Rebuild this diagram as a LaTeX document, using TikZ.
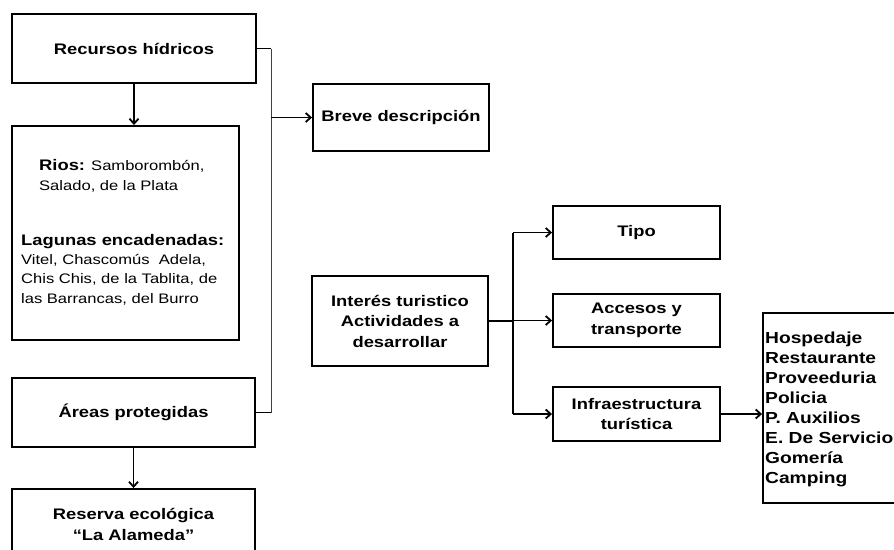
\documentclass[tikz,border=0pt]{standalone}
\usepackage{fontspec}
\setmainfont{Liberation Sans}[FakeStretch=1.2]
\usetikzlibrary{arrows.meta}
\begin{document}
\begin{tikzpicture}[x=1pt,y=-1pt,
  box/.style={draw, line width=1.9pt, inner sep=0pt, align=center},
  head/.style={font=\fontsize{15.3}{20.5}\selectfont\bfseries},
  small/.style={font=\fontsize{13.8}{19.3}\selectfont},
  list/.style={font=\fontsize{16}{20}\selectfont\bfseries},
  conn/.style={line width=1.8pt},
  thinconn/.style={line width=1pt, black!75},
  arr/.style={conn, -{Straight Barb[length=5pt,width=9pt]}},
]
\clip (0,0) rectangle (894,549);
\fill[white] (0,0) rectangle (894,549);

% left column
\node[box, head, minimum width=244pt, minimum height=69pt] (rec) at (134,48.5) {Recursos hídricos};
\node[box, minimum width=227pt, minimum height=214pt] (rios) at (125.5,233) {};
\node[small, anchor=base west, inner sep=0pt, align=left] (riostxt) at (39,190)
  {{\fontsize{15.3}{19.3}\selectfont\bfseries Rios:} Samborombón,\\Salado, de la Plata};
\node[small, anchor=base west, inner sep=0pt, align=left] (lagtxt) at (21,303)
  {{\fontsize{15.3}{19.3}\selectfont\bfseries Lagunas encadenadas:}\\Vitel, Chascomús~ Adela,\\Chis Chis, de la Tablita, de\\las Barrancas, del Burro};
\node[box, head, minimum width=243pt, minimum height=69pt] (areas) at (133.5,412.5) {Áreas protegidas};
\node[box, head, minimum width=243pt, minimum height=71pt] (reserva) at (133.5,524.5) {Reserva ecológica\\“La Alameda”};

% middle
\node[box, head, minimum width=176pt, minimum height=67pt] (breve) at (401,117.5) {Breve descripción};
\node[box, head, minimum width=176pt, minimum height=90pt] (inter) at (400,321) {Interés turistico\\Actividades a\\desarrollar};

% right
\node[box, head, minimum width=167pt, minimum height=53pt] (tipo) at (636.5,232.5) {Tipo};
\node[box, head, minimum width=167pt, minimum height=53pt] (acc) at (636.5,320.5) {Accesos y\\transporte};
\node[box, head, minimum width=167pt, minimum height=54pt] (infra) at (636.5,414) {Infraestructura\\turística};
\node[box, minimum width=150pt, minimum height=190pt] (hosp) at (838,408) {};
\node[list, anchor=west, inner sep=0pt, align=left] (hosptxt) at (765,409)
  {Hospedaje\\Restaurante\\Proveeduria\\Policia\\P. Auxilios\\E. De Servicio\\Gomería\\Camping};

% connectors left
\draw[arr] (rec.south) -- (rec.south |- rios.north);
\coordinate (b1) at (271,48.5);
\coordinate (b2) at (271,412.5);
\draw[conn] (rec.east) -- (b1);
\draw[thinconn] (b1) -- (b2);
\draw[conn] (b2) -- (areas.east);
\draw[arr] (b1 |- breve.west) -- (breve.west);
\draw[arr] (areas.south) -- (reserva.north);

% connectors right
\coordinate (ib) at (513,321);
\draw[conn] (inter.east) -- (ib);
\draw[conn] (ib |- tipo.west) -- (ib |- infra.west);
\draw[arr] (ib |- tipo.west) -- (tipo.west);
\draw[arr] (ib |- acc.west) -- (acc.west);
\draw[arr] (ib |- infra.west) -- (infra.west);
\draw[arr] (infra.east) -- (infra.east -| hosp.west);
\end{tikzpicture}
\end{document}
